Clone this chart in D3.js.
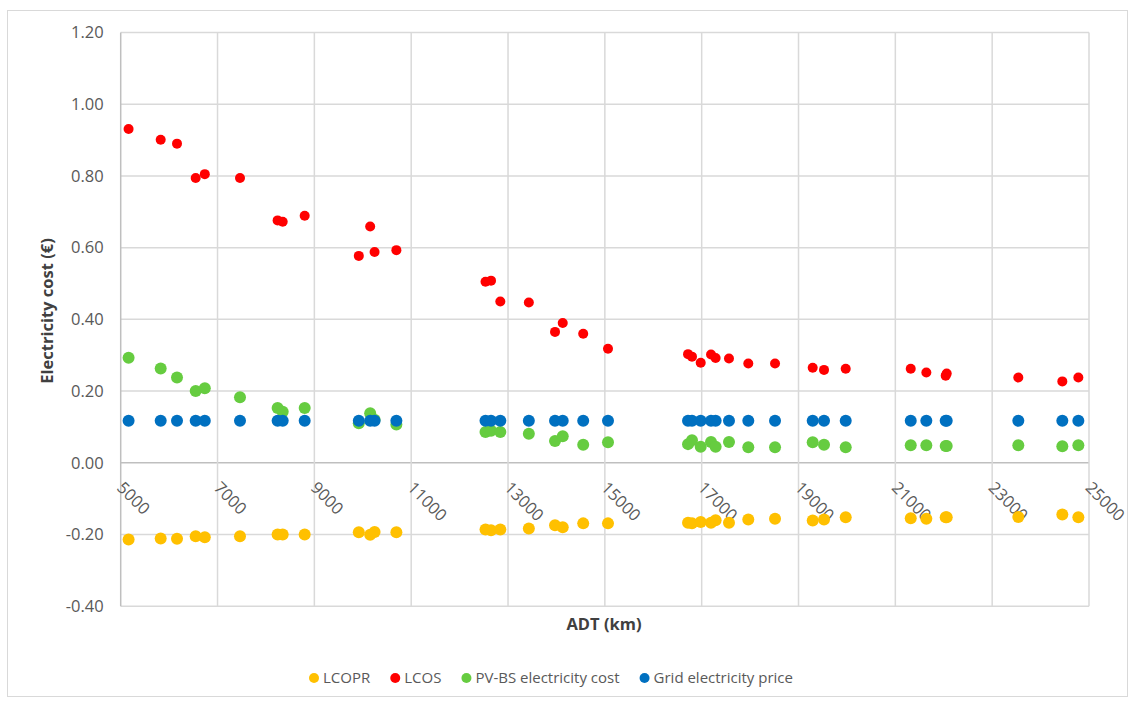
<!DOCTYPE html>
<html>
<head>
<meta charset="utf-8">
<script src="https://cdnjs.cloudflare.com/ajax/libs/d3/7.8.5/d3.min.js"></script>
<style>
  body { margin: 0; background: #fff; }
  svg { display: block; font-family: "Open Sans", "Liberation Sans", sans-serif; }
</style>
</head>
<body>
<div class="container"></div>
<script>
// ADT (km) for every simulated case
const adt = [5163, 5826, 6163, 6549, 6737, 7464, 8241, 8346, 8800, 9918, 10153, 10244, 10694,
  12535, 12649, 12841, 13430, 13971, 14130, 14553, 15065,
  16718, 16800, 16980, 17193, 17288, 17564, 17963, 18515, 19293, 19527, 19975,
  21318, 21640, 22061, 22040, 23540, 24449, 24780];

const lcopr = [-0.214, -0.211, -0.212, -0.205, -0.208, -0.205, -0.200, -0.200, -0.200, -0.194, -0.201, -0.193, -0.194,
  -0.186, -0.188, -0.186, -0.183, -0.174, -0.180, -0.169, -0.169,
  -0.167, -0.169, -0.165, -0.167, -0.160, -0.167, -0.158, -0.156, -0.161, -0.158, -0.152,
  -0.155, -0.156, -0.152, -0.152, -0.151, -0.144, -0.152];

const lcos = [0.931, 0.901, 0.890, 0.794, 0.805, 0.794, 0.676, 0.672, 0.689, 0.577, 0.659, 0.588, 0.593,
  0.505, 0.508, 0.450, 0.447, 0.365, 0.390, 0.360, 0.318,
  0.303, 0.296, 0.279, 0.302, 0.292, 0.291, 0.277, 0.277, 0.265, 0.259, 0.262,
  0.262, 0.252, 0.249, 0.243, 0.238, 0.227, 0.238];

const pvbs = [0.293, 0.263, 0.238, 0.200, 0.208, 0.183, 0.153, 0.142, 0.153, 0.110, 0.138, 0.120, 0.107,
  0.086, 0.089, 0.086, 0.081, 0.061, 0.074, 0.050, 0.057,
  0.052, 0.063, 0.045, 0.058, 0.045, 0.058, 0.043, 0.043, 0.057, 0.050, 0.043,
  0.049, 0.049, 0.047, 0.047, 0.049, 0.046, 0.049];

const grid = adt.map(() => 0.117);

const xTicks = [5000, 7000, 9000, 11000, 13000, 15000, 17000, 19000, 21000, 23000, 25000];
const yTicks = [-0.4, -0.2, 0, 0.2, 0.4, 0.6, 0.8, 1.0, 1.2];

const seriesNames = ['LCOPR', 'LCOS', 'PV-BS electricity cost', 'Grid electricity price'];
const seriesColors = ['#ffc000', '#ff0000', '#66cc40', '#0070c0'];
const seriesRadius = [6, 5, 6, 6];
const seriesValues = [lcopr, lcos, pvbs, grid];

const width = 1137;
const height = 702;
const plot = { left: 120.7, right: 1089, top: 32.5, bottom: 606.2 };

const svg = d3
  .select('.container')
  .append('svg')
  .attr('width', width)
  .attr('height', height);

// chart border
svg
  .append('rect')
  .attr('x', 7.5)
  .attr('y', 10.5)
  .attr('width', 1120)
  .attr('height', 686)
  .attr('fill', 'none')
  .attr('stroke', '#d9d9d9')
  .attr('stroke-width', 1);

const x = d3.scaleLinear().domain([5000, 25000]).range([plot.left, plot.right]);
const y = d3.scaleLinear().domain([-0.4, 1.2]).range([plot.bottom, plot.top]);

// gridlines
svg
  .append('g')
  .attr('class', 'y-grid')
  .selectAll('line')
  .data(yTicks)
  .join('line')
  .attr('x1', plot.left)
  .attr('x2', plot.right)
  .attr('y1', (d) => y(d))
  .attr('y2', (d) => y(d))
  .attr('stroke', (d) => (d === 0 ? '#bfbfbf' : '#d9d9d9'))
  .attr('stroke-width', 1.5);

svg
  .append('g')
  .attr('class', 'x-grid')
  .selectAll('line')
  .data(xTicks)
  .join('line')
  .attr('x1', (d) => x(d))
  .attr('x2', (d) => x(d))
  .attr('y1', plot.top)
  .attr('y2', plot.bottom)
  .attr('stroke', (d) => (d === 5000 ? '#bfbfbf' : '#d9d9d9'))
  .attr('stroke-width', 1.5);

// y axis labels (plain hyphen for negatives, like the original)
const yAxis = svg
  .append('g')
  .attr('transform', `translate(${plot.left},0)`)
  .call(d3.axisLeft(y).tickValues(yTicks).tickFormat((d) => d.toFixed(2)).tickSize(0).tickPadding(17));
yAxis.select('.domain').remove();
yAxis
  .selectAll('text')
  .attr('fill', '#595959')
  .style('font-size', '16.5px')
  .style('font-family', '"Open Sans", sans-serif');

// x axis labels, crossing at y = 0 and rotated
const xAxis = svg
  .append('g')
  .attr('transform', `translate(0,${y(0)})`)
  .call(d3.axisBottom(x).tickValues(xTicks).tickFormat(d3.format('d')).tickSize(0));
xAxis.select('.domain').remove();
xAxis
  .selectAll('text')
  .attr('y', 0)
  .attr('dy', '0.35em')
  .attr('text-anchor', 'start')
  .attr('transform', 'translate(-1,22) rotate(45)')
  .attr('fill', '#595959')
  .style('font-size', '16.5px')
  .style('font-family', '"Open Sans", sans-serif');

// axis titles
svg
  .append('text')
  .attr('transform', `translate(53,311) rotate(-90)`)
  .attr('text-anchor', 'middle')
  .attr('fill', '#404040')
  .style('font-weight', 'bold')
  .style('font-size', '16.5px')
  .text('Electricity cost (€)');

svg
  .append('text')
  .attr('x', 604)
  .attr('y', 630)
  .attr('text-anchor', 'middle')
  .attr('fill', '#404040')
  .style('font-weight', 'bold')
  .style('font-size', '16.5px')
  .text('ADT (km)');

// points
seriesValues.forEach((vals, i) => {
  svg
    .append('g')
    .attr('class', 'series-' + i)
    .selectAll('circle')
    .data(adt.map((a, j) => [a, vals[j]]))
    .join('circle')
    .attr('cx', (d) => x(d[0]))
    .attr('cy', (d) => y(d[1]))
    .attr('r', seriesRadius[i])
    .attr('fill', seriesColors[i]);
});

// legend, centred under the chart
const legend = svg.append('g').attr('class', 'legend');
let lx = 0;
seriesNames.forEach((name, i) => {
  const item = legend.append('g').attr('transform', `translate(${lx},0)`);
  item.append('circle').attr('cx', 5).attr('cy', 0).attr('r', 5).attr('fill', seriesColors[i]);
  const t = item
    .append('text')
    .attr('x', 14)
    .attr('y', 0)
    .attr('dy', '0.35em')
    .attr('fill', '#595959')
    .style('font-size', '15px')
    .text(name);
  lx += 14 + t.node().getComputedTextLength() + (i < seriesNames.length - 1 ? 20 : 0);
});
legend.attr('transform', `translate(${551 - lx / 2},678)`);
</script>
</body>
</html>
